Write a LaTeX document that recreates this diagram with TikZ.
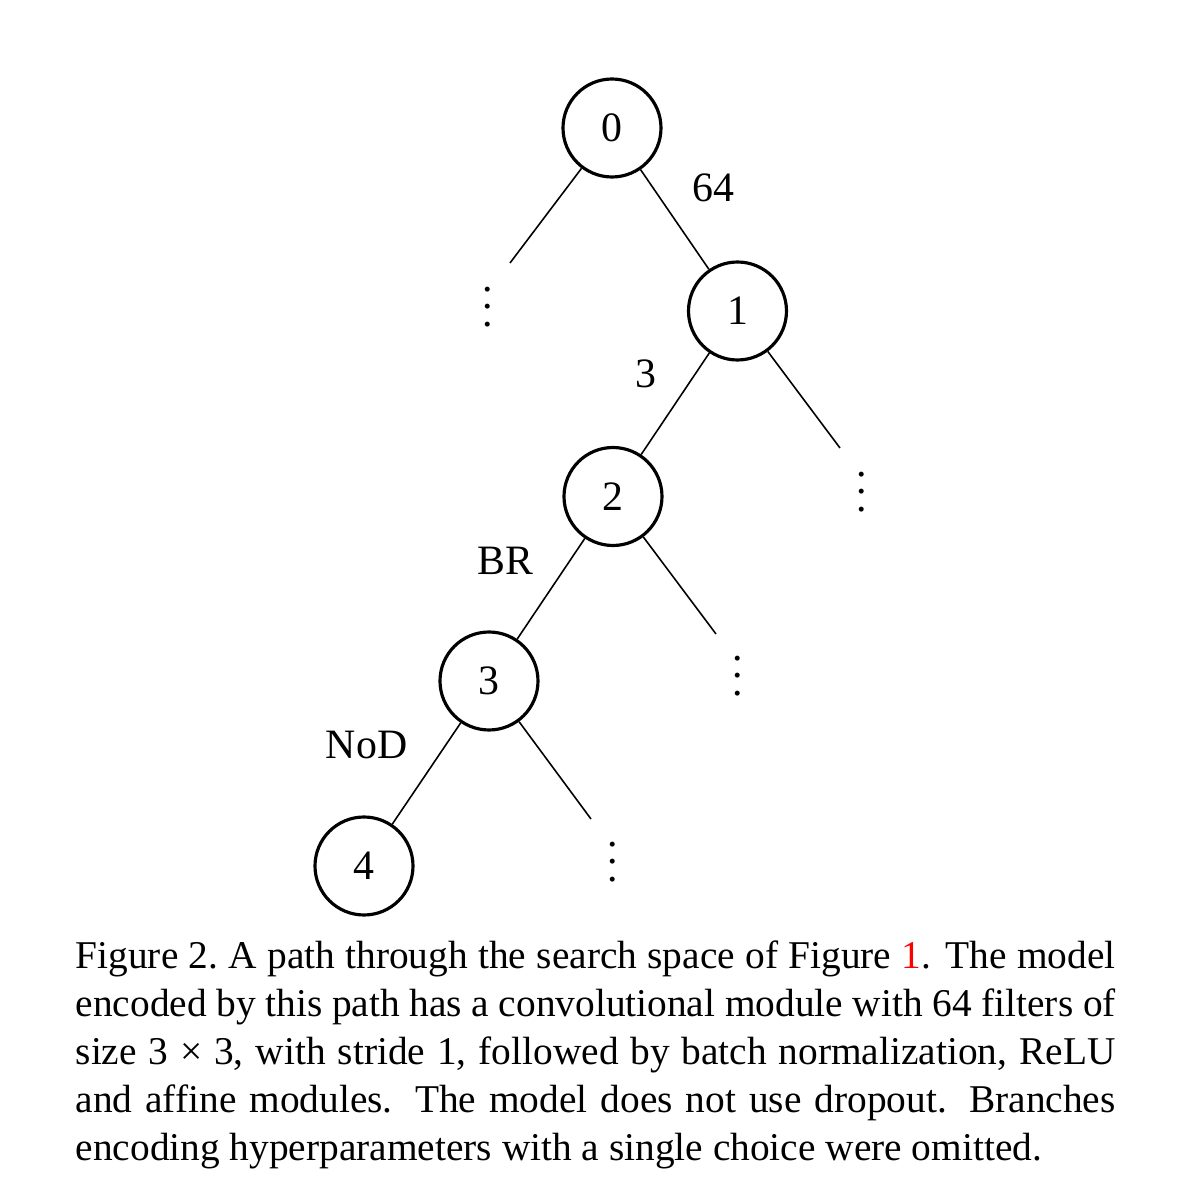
\documentclass[tikz,border=0pt]{standalone}
\usepackage{fontspec}
\setmainfont{Liberation Serif}
\usepackage{tikz}

\newcommand{\moredots}{\vbox{\baselineskip=4.98pt \lineskiplimit=-20pt \hbox{.}\hbox{.}\hbox{.}}}

\begin{document}
\begin{tikzpicture}[hpnode/.style={circle, draw, line width=0.9pt, minimum size=0.98cm, inner sep=0pt},
  branch/.style={line width=0.45pt},
  choice/.style={inner sep=0pt},
  moredotsnode/.style={inner sep=0pt}]
\useasboundingbox (0,0) rectangle (12,12);
\fontsize{11.9}{13.66}\selectfont
\node[hpnode] (n0) at (6.12,10.72) {0};
\node[hpnode] (n1) at (7.375,8.89) {1};
\node[hpnode] (n2) at (6.13,7.035) {2};
\node[hpnode] (n3) at (4.89,5.19) {3};
\node[hpnode] (n4) at (3.64,3.34) {4};
\draw [branch](n0) -- (n1);
\draw [branch](n1) -- (n2);
\draw [branch](n2) -- (n3);
\draw [branch](n3) -- (n4);
\node[choice, anchor=west] (c01) at (6.92,10.12) {64};
\node[choice, anchor=east] (c12) at (6.575,8.26) {3};
\node[choice, anchor=east] (c23) at (5.34,6.39) {BR};
\node[choice, anchor=east] (c34) at (4.08,4.55) {NoD};
\coordinate (e0) at (5.10,9.37);
\coordinate (e1) at (8.40,7.52);
\coordinate (e2) at (7.16,5.66);
\coordinate (e3) at (5.91,3.81);
\draw [branch](n0) -- (e0);
\draw [branch](n1) -- (e1);
\draw [branch](n2) -- (e2);
\draw [branch](n3) -- (e3);
\node[moredotsnode] (d0) at (4.88,8.93) {\moredots};
\node[moredotsnode] (d1) at (8.62,7.08) {\moredots};
\node[moredotsnode] (d2) at (7.38,5.24) {\moredots};
\node[moredotsnode] (d3) at (6.13,3.38) {\moredots};
\node[anchor=north west, inner sep=0pt, text width=10.40cm, align=justify] (caption) at (0.75,2.595)
  {\fontsize{11.2}{13.66}\selectfont Figure 2.\ A path through the search space of Figure \textcolor{red}{1}. The model\linebreak
  encoded by this path has a convolutional module with 64 filters of\linebreak
  size 3 × 3, with stride 1, followed by batch normalization, ReLU\linebreak
  and affine modules. The model does not use dropout. Branches\linebreak
  encoding hyperparameters with a single choice were omitted.\par};
\end{tikzpicture}
\end{document}
